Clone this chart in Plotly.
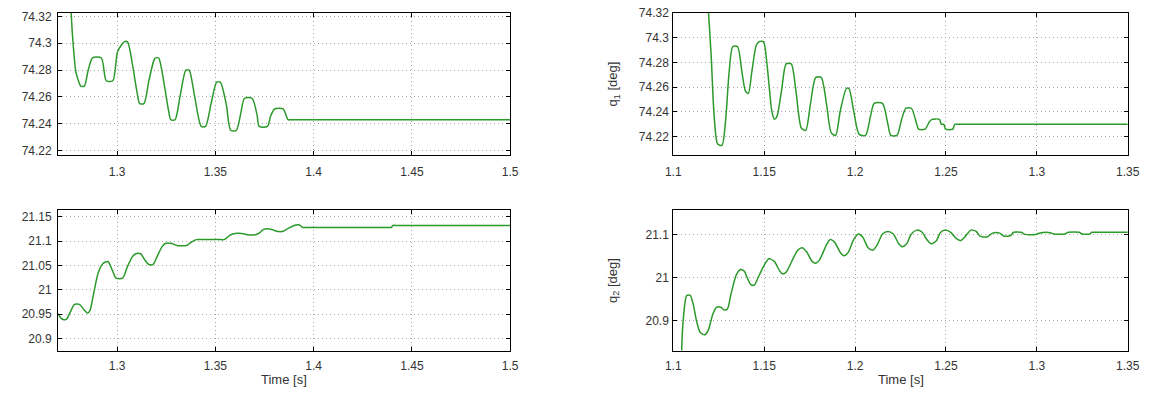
import plotly.graph_objects as go

# ---------------- data ----------------
t_q1_a = [1.2765, 1.27667, 1.27783, 1.279, 1.28033, 1.2815, 1.28333, 1.28533, 1.2875, 1.292,
          1.2945, 1.29783, 1.30033, 1.30367, 1.30533, 1.30783, 1.31033, 1.3115, 1.31367, 1.31617,
          1.31867, 1.3195, 1.32117, 1.32367, 1.32617, 1.32733, 1.3295, 1.332, 1.335, 1.33667,
          1.3395, 1.34283, 1.345, 1.34783, 1.35067, 1.3525, 1.3555, 1.35783, 1.36067, 1.36283,
          1.36483, 1.36867, 1.37117, 1.37233, 1.3765, 1.37817, 1.38017, 1.3845, 1.387, 1.3885,
          1.45, 1.5]
q1_a = [74.34, 74.3227, 74.296, 74.279, 74.272, 74.268, 74.268, 74.280, 74.289, 74.289,
        74.272, 74.272, 74.294, 74.301, 74.301, 74.284, 74.262, 74.255, 74.255, 74.272,
        74.287, 74.289, 74.289, 74.272, 74.250, 74.243, 74.243, 74.260, 74.280, 74.280,
        74.260, 74.238, 74.238, 74.255, 74.271, 74.271, 74.255, 74.235, 74.235, 74.247,
        74.259, 74.259, 74.247, 74.238, 74.238, 74.246, 74.251, 74.251, 74.243, 74.243,
        74.243, 74.243]

t_q2_a = [1.27, 1.27117, 1.2725, 1.27417, 1.27617, 1.27833, 1.28083, 1.28317, 1.285, 1.28617,
          1.28817, 1.29033, 1.29283, 1.29533, 1.2975, 1.2995, 1.30283, 1.30533, 1.30783, 1.3095,
          1.312, 1.31417, 1.31617, 1.31833, 1.32033, 1.32283, 1.3245, 1.32783, 1.33033, 1.33533,
          1.33783, 1.34033, 1.3425, 1.3525, 1.35450, 1.35617, 1.35783, 1.36117, 1.3645, 1.36617,
          1.37033, 1.37283, 1.3745, 1.37867, 1.38117, 1.38450, 1.38700, 1.38950, 1.39117, 1.39283,
          1.3945, 1.3965, 1.42, 1.4375, 1.4395, 1.44033, 1.4425, 1.47, 1.5]
q2_a = [20.951, 20.943, 20.939, 20.939, 20.954, 20.970, 20.970, 20.959, 20.952, 20.957,
        20.994, 21.034, 21.054, 21.058, 21.041, 21.024, 21.024, 21.048, 21.068, 21.074,
        21.074, 21.061, 21.052, 21.052, 21.068, 21.088, 21.095, 21.095, 21.091, 21.091,
        21.098, 21.103, 21.103, 21.103, 21.103, 21.108, 21.113, 21.116, 21.115, 21.113,
        21.113, 21.118, 21.124, 21.124, 21.120, 21.120, 21.126, 21.131, 21.133, 21.133,
        21.128, 21.128, 21.128, 21.128, 21.128, 21.132, 21.132, 21.132, 21.132]

t_q1_b = [1.11845, 1.11925, 1.12083, 1.12242, 1.1244, 1.12679, 1.12877, 1.13075, 1.13274, 1.13532,
          1.1377, 1.13968, 1.14127, 1.14325, 1.14563, 1.14722, 1.1496, 1.15159, 1.15417, 1.15556,
          1.15694, 1.15952, 1.1621, 1.16488, 1.16746, 1.17044, 1.17282, 1.1754, 1.17837, 1.18135,
          1.18433, 1.1869, 1.18929, 1.19187, 1.19524, 1.19663, 1.19921, 1.20218, 1.20575, 1.20853,
          1.21052, 1.21508, 1.21806, 1.21964, 1.22302, 1.2256, 1.22798, 1.23095, 1.23393, 1.23492,
          1.23849, 1.24087, 1.24226, 1.24643, 1.24742, 1.24881, 1.2498, 1.25377, 1.25476, 1.2565,
          1.3, 1.35]
q1_b = [74.34, 74.323, 74.286, 74.238, 74.214, 74.213, 74.233, 74.273, 74.293, 74.293,
        74.273, 74.257, 74.255, 74.273, 74.294, 74.297, 74.297, 74.278, 74.241, 74.234,
        74.236, 74.257, 74.279, 74.279, 74.257, 74.227, 74.225, 74.246, 74.268, 74.268,
        74.246, 74.223, 74.221, 74.241, 74.259, 74.259, 74.241, 74.222, 74.221, 74.237,
        74.247, 74.247, 74.230, 74.221, 74.221, 74.234, 74.243, 74.243, 74.230, 74.226,
        74.226, 74.232, 74.234, 74.234, 74.230, 74.230, 74.226, 74.226, 74.230, 74.230,
        74.230, 74.230]

t_q2_b = [1.10377, 1.10456, 1.10496, 1.10595, 1.10734, 1.10933, 1.11091, 1.1129, 1.11488, 1.11726,
          1.11925, 1.12183, 1.12381, 1.12619, 1.12778, 1.12976, 1.13175, 1.13472, 1.1371, 1.13909,
          1.14067, 1.14266, 1.14464, 1.14663, 1.1496, 1.15258, 1.15556, 1.15853, 1.16012, 1.1621,
          1.16548, 1.16845, 1.17083, 1.17341, 1.17639, 1.17837, 1.18036, 1.18433, 1.18631, 1.18869,
          1.19187, 1.19385, 1.19623, 1.19921, 1.20179, 1.20417, 1.20714, 1.20972, 1.2121, 1.21508,
          1.21806, 1.22103, 1.22401, 1.22599, 1.22837, 1.23095, 1.23393, 1.2369, 1.23948, 1.24187,
          1.24484, 1.24683, 1.2498, 1.25278, 1.25575, 1.25813, 1.26071, 1.26369, 1.26667, 1.26865,
          1.27262, 1.2756, 1.27956, 1.28194, 1.28552, 1.2871, 1.29147, 1.29345, 1.2994, 1.30238,
          1.30734, 1.30933, 1.31528, 1.31726, 1.32321, 1.3248, 1.32917, 1.33016, 1.332, 1.341,
          1.35]
q2_b = [20.80, 20.828, 20.870, 20.924, 20.958, 20.959, 20.939, 20.897, 20.872, 20.867,
        20.878, 20.916, 20.931, 20.931, 20.925, 20.927, 20.962, 21.007, 21.019, 21.015,
        21.000, 20.984, 20.983, 21.000, 21.026, 21.044, 21.038, 21.016, 21.009, 21.013,
        21.041, 21.064, 21.070, 21.060, 21.038, 21.034, 21.041, 21.077, 21.089, 21.083,
        21.059, 21.051, 21.059, 21.089, 21.102, 21.095, 21.070, 21.064, 21.076, 21.102,
        21.108, 21.102, 21.079, 21.072, 21.079, 21.102, 21.111, 21.106, 21.089, 21.079,
        21.087, 21.105, 21.111, 21.105, 21.091, 21.087, 21.097, 21.111, 21.108, 21.097,
        21.095, 21.104, 21.104, 21.097, 21.098, 21.106, 21.106, 21.101, 21.101, 21.105,
        21.105, 21.102, 21.102, 21.106, 21.106, 21.102, 21.102, 21.106, 21.106, 21.106,
        21.106]

xticks_a = [1.3, 1.35, 1.4, 1.45, 1.5]
xticklabels_a = ["1.3", "1.35", "1.4", "1.45", "1.5"]
xticks_b = [1.1, 1.15, 1.2, 1.25, 1.3, 1.35]
xticklabels_b = ["1.1", "1.15", "1.2", "1.25", "1.3", "1.35"]
yticks_q1 = [74.22, 74.24, 74.26, 74.28, 74.3, 74.32]
yticklabels_q1 = ["74.22", "74.24", "74.26", "74.28", "74.3", "74.32"]
yticks_q2_a = [20.9, 20.95, 21.0, 21.05, 21.1, 21.15]
yticklabels_q2_a = ["20.9", "20.95", "21", "21.05", "21.1", "21.15"]
yticks_q2_b = [20.9, 21.0, 21.1]
yticklabels_q2_b = ["20.9", "21", "21.1"]

# ---------------- figure ----------------
W, H = 1156, 393
GREEN = "#2b9a2b"
FONT = "Liberation Sans, Arial, sans-serif"
TXT = "#333333"

fig = go.Figure()
traces = [(t_q1_a, q1_a, "x", "y"), (t_q2_a, q2_a, "x2", "y2"),
          (t_q1_b, q1_b, "x3", "y3"), (t_q2_b, q2_b, "x4", "y4")]
for tx, ty, xa, ya in traces:
    fig.add_trace(go.Scatter(x=tx, y=ty, mode="lines", xaxis=xa, yaxis=ya,
                             line=dict(color=GREEN, width=1.5, shape="spline",
                                       smoothing=0.7),
                             showlegend=False, hoverinfo="skip"))

def px_x(a, b):
    return [a / W, b / W]

def px_y(top, bottom):
    return [1 - bottom / H, 1 - top / H]

common = dict(showline=True, linecolor="black", linewidth=1, mirror="allticks",
              ticks="inside", ticklen=4, tickcolor="black", tickwidth=1,
              showgrid=True, gridcolor="#a8a8a8", griddash="1px,3px", gridwidth=1,
              zeroline=False, tickfont=dict(family=FONT, size=12, color=TXT))

LA, RA = px_x(51, 511), px_x(677, 1139.5)
TOP, BOT = px_y(7, 152), px_y(208.3, 352.7)

fig.update_layout(
    width=W, height=H, margin=dict(l=0, r=0, t=0, b=0),
    paper_bgcolor="white", plot_bgcolor="white",
    xaxis=dict(domain=LA, anchor="y", range=[1.27, 1.5], tickvals=xticks_a,
               ticktext=xticklabels_a, ticklabelstandoff=6, **common),
    yaxis=dict(domain=TOP, anchor="x", range=[74.2171, 74.3226], tickvals=yticks_q1,
               ticktext=yticklabels_q1, ticklabelstandoff=3, **common),
    xaxis2=dict(domain=LA, anchor="y2", range=[1.27, 1.5], tickvals=xticks_a,
                ticktext=xticklabels_a, ticklabelstandoff=4, **common),
    yaxis2=dict(domain=BOT, anchor="x2", range=[20.875, 21.1648], tickvals=yticks_q2_a,
                ticktext=yticklabels_q2_a, ticklabelstandoff=3, **common),
    xaxis3=dict(domain=RA, anchor="y3", range=[1.1, 1.35], tickvals=xticks_b,
                ticktext=xticklabels_b, ticklabelstandoff=6, **common),
    yaxis3=dict(domain=TOP, anchor="x3", range=[74.2055, 74.3203], tickvals=yticks_q1,
                ticktext=yticklabels_q1, ticklabelstandoff=1, **common),
    xaxis4=dict(domain=RA, anchor="y4", range=[1.1, 1.35], tickvals=xticks_b,
                ticktext=xticklabels_b, ticklabelstandoff=4, **common),
    yaxis4=dict(domain=BOT, anchor="x4", range=[20.830, 21.159], tickvals=yticks_q2_b,
                ticktext=yticklabels_q2_b, ticklabelstandoff=1, **common),
)

ann_font = dict(family=FONT, size=13, color=TXT)
annotations = [
    dict(text="Time [s]", x=(51 + 511) / 2 / W, y=1 - 382 / H),
    dict(text="Time [s]", x=(677 + 1139.5) / 2 / W, y=1 - 382 / H),
    dict(text="q<sub>1</sub> [deg]", x=616 / W, y=1 - 80 / H, textangle=-90),
    dict(text="q<sub>2</sub> [deg]", x=616 / W, y=1 - 281 / H, textangle=-90),
    dict(text="q<sub>1</sub> [deg]", x=-16 / W, y=1 - 80 / H, textangle=-90),
    dict(text="q<sub>2</sub> [deg]", x=-16 / W, y=1 - 281 / H, textangle=-90),
]
for a in annotations:
    fig.add_annotation(xref="paper", yref="paper", showarrow=False,
                       xanchor="center", yanchor="middle", font=ann_font, **a)

fig.write_html("out.html")
